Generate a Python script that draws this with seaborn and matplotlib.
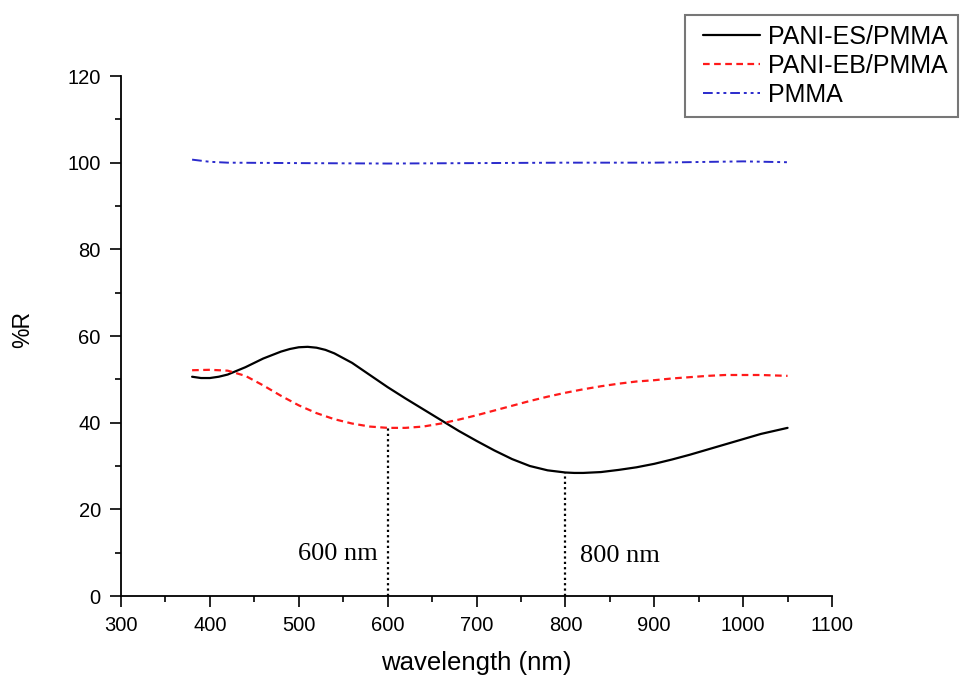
import matplotlib
matplotlib.use("Agg")
import matplotlib.pyplot as plt
import seaborn as sns
import pandas as pd
from matplotlib.ticker import MultipleLocator
from matplotlib.lines import Line2D
from matplotlib.legend_handler import HandlerLine2D

wl_es = [380, 390, 400, 410, 420, 440, 460, 480, 490, 500, 510, 520, 530, 540, 560, 580, 600,
         620, 640, 660, 680, 700, 720, 740, 760, 780, 800, 810, 820, 840, 860, 880, 900, 920,
         940, 960, 980, 1000, 1020, 1050]
r_es = [50.6, 50.3, 50.3, 50.6, 51.1, 52.8, 54.8, 56.4, 57.0, 57.4, 57.5, 57.3, 56.8, 56.0,
        53.8, 51.0, 48.2, 45.6, 43.1, 40.6, 38.1, 35.8, 33.6, 31.6, 30.0, 29.0, 28.5, 28.4,
        28.4, 28.6, 29.1, 29.7, 30.5, 31.5, 32.6, 33.8, 35.0, 36.2, 37.4, 38.8]

wl_eb = [380, 400, 420, 440, 460, 480, 500, 520, 540, 560, 580, 600, 620, 640, 660, 680, 700,
         720, 740, 760, 780, 800, 820, 840, 860, 880, 900, 920, 940, 960, 980, 1000, 1020, 1050]
r_eb = [52.1, 52.2, 52.0, 50.8, 48.6, 46.2, 44.0, 42.2, 40.8, 39.8, 39.1, 38.8, 38.8, 39.1,
        39.8, 40.7, 41.7, 42.8, 43.9, 45.0, 46.0, 46.9, 47.7, 48.4, 49.0, 49.5, 49.8, 50.2,
        50.5, 50.8, 51.0, 51.0, 51.0, 50.8]

wl_pm = [380, 400, 420, 500, 600, 700, 800, 900, 1000, 1050]
r_pm = [100.7, 100.2, 100.0, 99.9, 99.8, 99.9, 100.0, 100.0, 100.3, 100.1]

labels = ["PANI-ES/PMMA", "PANI-EB/PMMA", "PMMA"]
mark_x = [600, 800]
mark_y = [38.8, 28.5]
mark_text = ["600 nm", "800 nm"]

sns.set_style("ticks")
plt.rcParams["font.family"] = ["Liberation Sans", "DejaVu Sans"]
plt.rcParams["text.color"] = "black"
plt.rcParams["axes.labelcolor"] = "black"

fig = plt.figure(figsize=(9.6, 6.75), dpi=100)
ax = fig.add_axes([121/960, 1-596/675, (832-121)/960, (596-76)/675])

df_es = pd.DataFrame({"wl": wl_es, "R": r_es})
df_eb = pd.DataFrame({"wl": wl_eb, "R": r_eb})
df_pm = pd.DataFrame({"wl": wl_pm, "R": r_pm})

sns.lineplot(data=df_es, x="wl", y="R", ax=ax, color="black", lw=1.6, label=labels[0])
sns.lineplot(data=df_eb, x="wl", y="R", ax=ax, color="#ff1a1a", lw=1.6, label=labels[1])
sns.lineplot(data=df_pm, x="wl", y="R", ax=ax, color="#2a2acc", lw=1.4, label=labels[2])
lines = ax.get_lines()
lines[1].set_dashes((3, 2))
lines[2].set_dashes((5, 2, 1.5, 2, 1.5, 2))
handles = lines[:3]

for x, y in zip(mark_x, mark_y):
    ax.plot([x, x], [0, y], color="black", ls=(0, (1, 1.4)), lw=1.6)
ax.text(589, 8.2, mark_text[0], family="Liberation Serif", fontsize=19, ha="right", va="baseline")
ax.text(816, 7.8, mark_text[1], family="Liberation Serif", fontsize=19, ha="left", va="baseline")

ax.set_xlim(300, 1100)
ax.set_ylim(0, 120)
ax.xaxis.set_major_locator(MultipleLocator(100))
ax.xaxis.set_minor_locator(MultipleLocator(50))
ax.yaxis.set_major_locator(MultipleLocator(20))
ax.yaxis.set_minor_locator(MultipleLocator(10))
ax.tick_params(which="major", direction="out", length=8, width=1.2, labelsize=14.5,
               colors="black", pad=6.5)
ax.tick_params(which="minor", direction="out", length=4.5, width=1.2, colors="black")
for s in ["left", "bottom"]:
    ax.spines[s].set_linewidth(1.3)
    ax.spines[s].set_color("black")
sns.despine(ax=ax)
ax.set_xlabel("wavelength (nm)", fontsize=18.5, color="black")
ax.xaxis.set_label_coords(0.5, (596-670)/520)
ax.xaxis.label.set_va("baseline")
ax.set_ylabel("%R", fontsize=16.5, color="black")
ax.yaxis.set_label_coords((23-121)/711, (596-330)/520)
ax.yaxis.label.set_va("center")

ax.get_legend().remove()
leg = fig.legend(handles, labels, loc="upper left", bbox_to_anchor=(685/960, 1-15/675),
                 fontsize=18, frameon=True, fancybox=False, edgecolor="#555555",
                 handlelength=2.6, handletextpad=0.32, labelspacing=0.2, borderpad=0.4,
                 borderaxespad=0, labelcolor="black",
                 handler_map={Line2D: HandlerLine2D(xpad=0.32)})
leg.get_frame().set_linewidth(1.5)

fig.savefig("out.png", dpi=100)
